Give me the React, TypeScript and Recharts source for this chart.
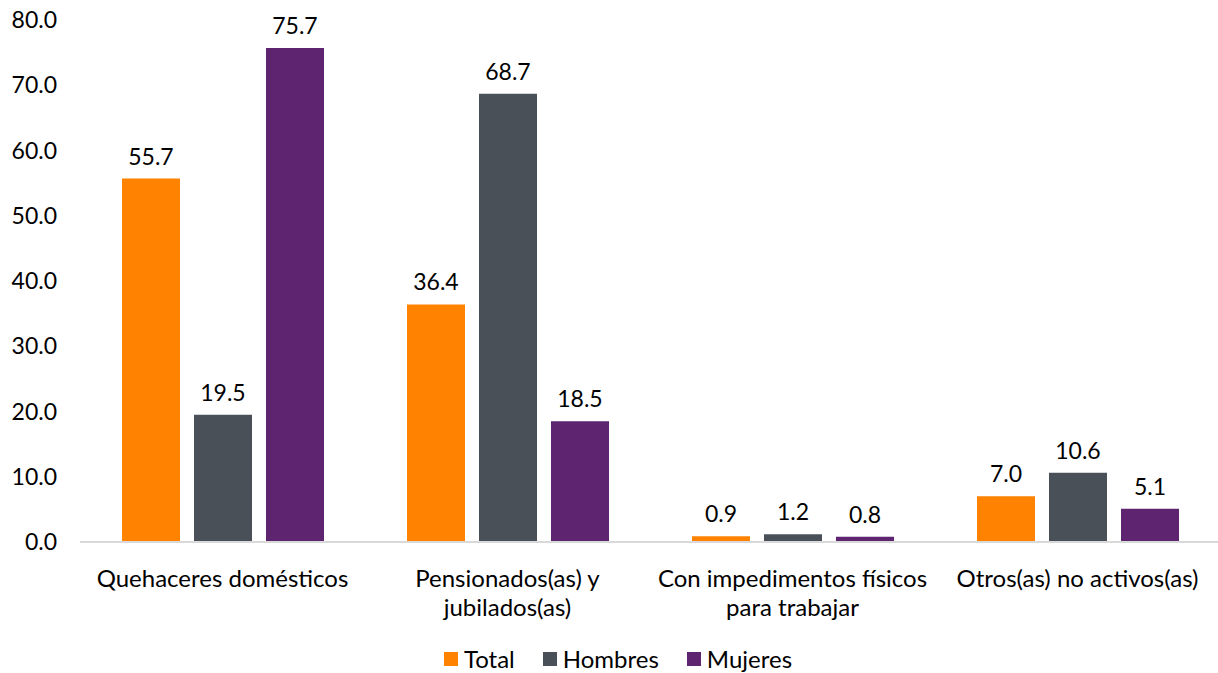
import { BarChart, Bar, XAxis, YAxis, Legend, LabelList } from 'recharts';

const categories = [
  'Quehaceres domésticos',
  'Pensionados(as) y\njubilados(as)',
  'Con impedimentos físicos\npara trabajar',
  'Otros(as) no activos(as)',
];
const total = [55.7, 36.4, 0.9, 7.0];
const hombres = [19.5, 68.7, 1.2, 10.6];
const mujeres = [75.7, 18.5, 0.8, 5.1];
const yTicks = [0, 10, 20, 30, 40, 50, 60, 70, 80];

const series = [
  { key: 'total', name: 'Total', color: '#FF8200' },
  { key: 'hombres', name: 'Hombres', color: '#495057' },
  { key: 'mujeres', name: 'Mujeres', color: '#5E2470' },
];

const FONT = 'Lato, "Open Sans", sans-serif';

const data = categories.map((c, i) => ({
  name: c,
  total: total[i],
  hombres: hombres[i],
  mujeres: mujeres[i],
}));

function CategoryTick({ x, y, payload }: any) {
  const lines = String(payload.value).split('\n');
  return (
    <text x={x} y={y} textAnchor="middle" fontSize={24} fontFamily={FONT} fill="#000">
      {lines.map((l, i) => (
        <tspan key={i} x={x} dy={i === 0 ? 37 : 29}>{l}</tspan>
      ))}
    </text>
  );
}

function LegendContent() {
  return (
    <div style={{ display: 'flex', justifyContent: 'center', gap: 28, fontFamily: FONT, fontSize: 24, color: '#000', paddingTop: 11, paddingLeft: 16 }}>
      {series.map((s) => (
        <div key={s.key} style={{ display: 'flex', alignItems: 'center', gap: 6 }}>
          <span style={{ display: 'inline-block', width: 14, height: 14, background: s.color }} />
          <span>{s.name}</span>
        </div>
      ))}
    </div>
  );
}

const fmt = (v: any) => Number(v).toFixed(1);

export default function App() {
  return (
    <div style={{ position: 'absolute', left: 0, top: 0, width: 1218, height: 673, overflow: 'hidden', background: '#fff' }}>
      <BarChart
        width={1220}
        height={673}
        data={data}
        margin={{ top: 20, right: 0, left: 0, bottom: 0 }}
        barSize={58}
        barGap={14}
        style={{ fontFamily: FONT }}
      >
        <XAxis
          dataKey="name"
          tick={<CategoryTick />}
          tickLine={false}
          axisLine={{ stroke: '#d9d9d9', strokeWidth: 2 }}
          height={91}
          interval={0}
        />
        <YAxis
          domain={[0, 80]}
          ticks={yTicks}
          tickFormatter={fmt}
          axisLine={false}
          tickLine={false}
          tickSize={0}
          tickMargin={23}
          width={80}
          tick={{ fontSize: 23, fill: '#000', fontFamily: FONT }}
        />
        <Legend verticalAlign="bottom" height={40} content={<LegendContent />} />
        {series.map((s) => (
          <Bar key={s.key} dataKey={s.key} name={s.name} fill={s.color} isAnimationActive={false}>
            <LabelList dataKey={s.key} position="top" offset={14} formatter={fmt} fill="#000" fontSize={23} fontFamily={FONT} />
          </Bar>
        ))}
      </BarChart>
    </div>
  );
}
